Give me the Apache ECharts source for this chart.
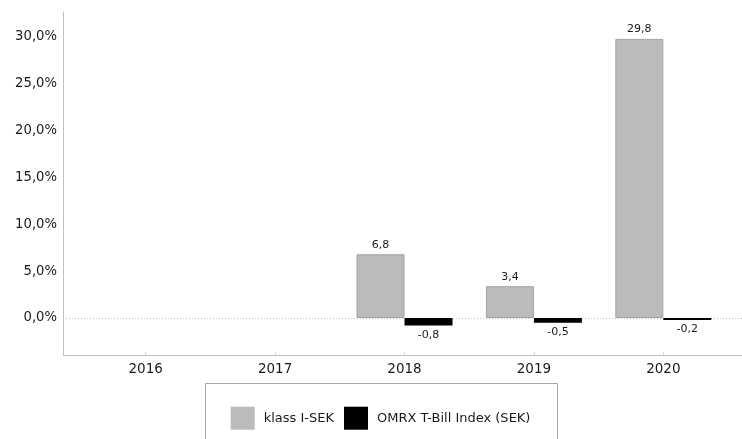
<!DOCTYPE html>
<html>
<head>
<meta charset="utf-8">
<script src="https://cdn.jsdelivr.net/npm/echarts@6/dist/echarts.min.js"></script>
<style>html,body{margin:0;padding:0;background:#fff}#c{width:742px;height:439px}</style>
</head>
<body>
<div id="c"></div>
<script>
var categories = ["2016", "2017", "2018", "2019", "2020"];
var seriesNames = ["klass I-SEK", "OMRX T-Bill Index (SEK)"];
var fundValues = [null, null, 6.8, 3.4, 29.8];
var indexValues = [null, null, -0.8, -0.5, -0.2];
var yTicks = [0, 5, 10, 15, 20, 25, 30];

function pairs(vals) {
  var out = [];
  for (var i = 0; i < categories.length; i++) {
    if (vals[i] !== null) out.push([parseInt(categories[i], 10), vals[i]]);
  }
  return out;
}
function comma(v) { return v.toFixed(1).replace('.', ','); }
var catNums = categories.map(function (c) { return parseInt(c, 10); });
var FONT = 'DejaVu Sans';

var chart = echarts.init(document.getElementById('c'), null, { renderer: 'canvas' });
chart.setOption({
  animation: false,
  backgroundColor: '#ffffff',
  grid: { left: 63, right: 0, top: 12, bottom: 84, containLabel: false },
  xAxis: {
    type: 'value',
    min: 2015.361,
    max: 2020.608,
    splitLine: { show: false },
    axisLine: { show: true, onZero: false, lineStyle: { color: '#BFBFBF', width: 1 } },
    axisTick: { show: true, inside: true, length: 3, customValues: catNums, lineStyle: { color: '#D9D9D9' } },
    axisLabel: {
      customValues: catNums,
      formatter: function (v) { return String(v); },
      color: '#1a1a1a', fontFamily: FONT, fontSize: 13.5, margin: 7
    }
  },
  yAxis: {
    type: 'value',
    min: -3.95,
    max: 32.67,
    splitLine: { show: false },
    axisLine: { show: true, onZero: false, lineStyle: { color: '#BFBFBF', width: 1 } },
    axisTick: { show: false },
    axisLabel: {
      customValues: yTicks,
      formatter: function (v) { return comma(v) + '%'; },
      color: '#1a1a1a', fontFamily: FONT, fontSize: 13.2, margin: 6
    }
  },
  legend: {
    left: 225.7, top: 401.7,
    itemWidth: 24, itemHeight: 23, itemGap: 10,
    icon: 'rect',
    itemStyle: { borderWidth: 0 },
    textStyle: { color: '#1a1a1a', fontFamily: FONT, fontSize: 13, padding: [0, 0, 0, 4] },
    data: seriesNames
  },
  graphic: [{
    type: 'rect', silent: true, z: -1,
    shape: { x: 205.5, y: 383.5, width: 352, height: 80 },
    style: { fill: 'none', stroke: '#A6A6A6', lineWidth: 1 }
  }],
  series: [
    {
      name: seriesNames[0], type: 'bar', barWidth: 48, barGap: '0%', z: 3,
      data: pairs(fundValues),
      itemStyle: { color: '#BBBBBB', borderColor: '#A3A3A3', borderWidth: 1 },
      label: { show: true, position: 'top', distance: 4, color: '#1a1a1a', fontFamily: FONT, fontSize: 11,
        formatter: function (p) { return comma(p.value[1]); } }
    },
    {
      name: seriesNames[1], type: 'bar', barWidth: 48, barGap: '0%', z: 3,
      data: pairs(indexValues),
      itemStyle: { color: '#000000' },
      label: { show: true, position: 'bottom', distance: 4, color: '#1a1a1a', fontFamily: FONT, fontSize: 11,
        formatter: function (p) { return comma(p.value[1]); } }
    },
    {
      name: 'zero', type: 'line', data: [], z: 1, silent: true,
      markLine: {
        silent: true, symbol: 'none', z: 1,
        label: { show: false },
        lineStyle: { type: [1, 2], color: '#BDBDBD', width: 1 },
        data: [{ yAxis: 0 }]
      }
    }
  ]
});
</script>
</body>
</html>
